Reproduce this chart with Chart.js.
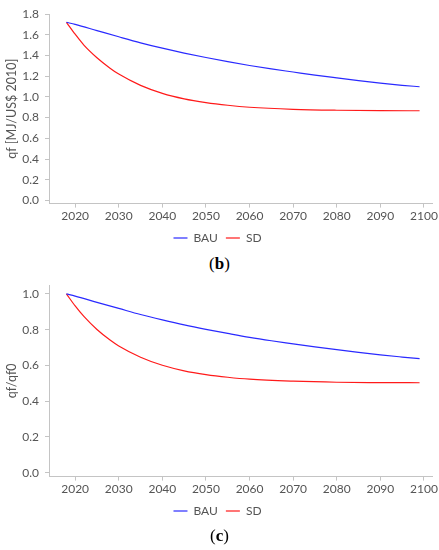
<!DOCTYPE html>
<html>
<head>
<meta charset="utf-8">
<script src="https://cdn.jsdelivr.net/npm/chart.js@4/dist/chart.umd.min.js"></script>
<style>
  body { margin: 0; background: #fff; width: 439px; height: 550px; position: relative; overflow: hidden; }
  .box { position: absolute; left: 0; width: 439px; }
  .cap { position: absolute; left: 0; width: 439px; text-align: center; font-family: "Liberation Serif", serif; font-size: 17px; color: #000; }
  .cap b { font-weight: bold; }
</style>
</head>
<body>
<div class="box" style="top:0;height:254px"><canvas id="chart-b"></canvas></div>
<div class="cap" style="top:254px">(<b>b</b>)</div>
<div class="box" style="top:270px;height:257px"><canvas id="chart-c"></canvas></div>
<div class="cap" style="top:526px">(<b>c</b>)</div>
<script>
const bauYears = [2018, 2020, 2025, 2030, 2035, 2040, 2045, 2050, 2055, 2060, 2065, 2070, 2075, 2080, 2085, 2090, 2095, 2099]
const sdYears = [2018, 2020, 2022, 2025, 2028, 2030, 2035, 2040, 2045, 2050, 2055, 2060, 2070, 2080, 2090, 2099]

// (b) qf [MJ/US$ 2010]
const bauQf = [1.72, 1.70, 1.64, 1.58, 1.522, 1.47, 1.423, 1.38, 1.34, 1.303, 1.27, 1.24, 1.21, 1.183, 1.157, 1.133, 1.112, 1.098]
const sdQf = [1.72, 1.605, 1.50, 1.378, 1.277, 1.22, 1.111, 1.034, 0.981, 0.945, 0.919, 0.90, 0.88, 0.871, 0.867, 0.866]

// (c) qf/qf0
const bauRatio = [1.0, 0.988, 0.953, 0.919, 0.885, 0.855, 0.827, 0.802, 0.779, 0.757, 0.738, 0.721, 0.704, 0.688, 0.673, 0.659, 0.647, 0.638]
const sdRatio = [1.0, 0.933, 0.874, 0.801, 0.742, 0.709, 0.646, 0.601, 0.570, 0.549, 0.534, 0.523, 0.512, 0.506, 0.504, 0.503]

const xTicks = [2020, 2030, 2040, 2050, 2060, 2070, 2080, 2090, 2100]
const yTicksB = [0, 0.2, 0.4, 0.6, 0.8, 1.0, 1.2, 1.4, 1.6, 1.8]
const yTicksC = [0, 0.2, 0.4, 0.6, 0.8, 1.0]

const colors = {
  bau: '#2a2aff',
  sd: '#ff1a1a',
  axis: '#c4c4c4',
  text: '#555555'
}

const font = 'Lato, "Open Sans", sans-serif'

const pts = (xs, ys) => xs.map((x, i) => ({ x: x, y: ys[i] }))

const makeChart = (id, bau, sd, yTicks, yMin, yMax, title, padTop) => {
  const ctx = document.getElementById(id).getContext('2d')
  return new Chart(ctx, {
    type: 'line',
    data: {
      datasets: [{
        label: 'BAU',
        data: pts(bauYears, bau),
        borderColor: colors.bau,
        backgroundColor: colors.bau,
        borderWidth: 1.2,
        pointRadius: 0,
        cubicInterpolationMode: 'monotone'
      }, {
        label: 'SD',
        data: pts(sdYears, sd),
        borderColor: colors.sd,
        backgroundColor: colors.sd,
        borderWidth: 1.2,
        pointRadius: 0,
        cubicInterpolationMode: 'monotone'
      }]
    },
    options: {
      responsive: true,
      maintainAspectRatio: false,
      animation: false,
      layout: { padding: { top: padTop, right: 6, left: 2 } },
      plugins: {
        tooltip: { enabled: false },
        legend: {
          position: 'bottom',
          labels: {
            usePointStyle: true,
            pointStyle: 'line',
            pointStyleWidth: 14,
            color: colors.text,
            font: { family: font, size: 12 },
            padding: 8
          }
        }
      },
      scales: {
        x: {
          type: 'linear',
          min: 2014,
          max: 2102,
          afterBuildTicks: s => { s.ticks = xTicks.map(v => ({ value: v })) },
          border: { color: colors.axis },
          grid: { drawOnChartArea: false, color: colors.axis, tickLength: 4 },
          ticks: {
            color: colors.text,
            font: { family: font, size: 12 },
            padding: 1,
            maxRotation: 0,
            callback: v => String(v)
          }
        },
        y: {
          min: yMin,
          max: yMax,
          afterBuildTicks: s => { s.ticks = yTicks.map(v => ({ value: v })) },
          afterFit: s => { s.width = 47 },
          border: { color: colors.axis },
          grid: { drawOnChartArea: false, color: colors.axis, tickLength: 4 },
          ticks: {
            color: colors.text,
            font: { family: font, size: 12 },
            padding: 6,
            callback: v => Number(v).toFixed(1)
          },
          title: {
            display: true,
            text: title,
            color: colors.text,
            font: { family: font, size: 12.5 },
            padding: { top: 2, bottom: 1 }
          }
        }
      }
    }
  })
}

makeChart('chart-b', bauQf, sdQf, yTicksB, -0.03, 1.8, 'qf [MJ/US$ 2010]', 14)
makeChart('chart-c', bauRatio, sdRatio, yTicksC, -0.022, 1.05, 'qf/qf0', 15)
</script>
</body>
</html>
